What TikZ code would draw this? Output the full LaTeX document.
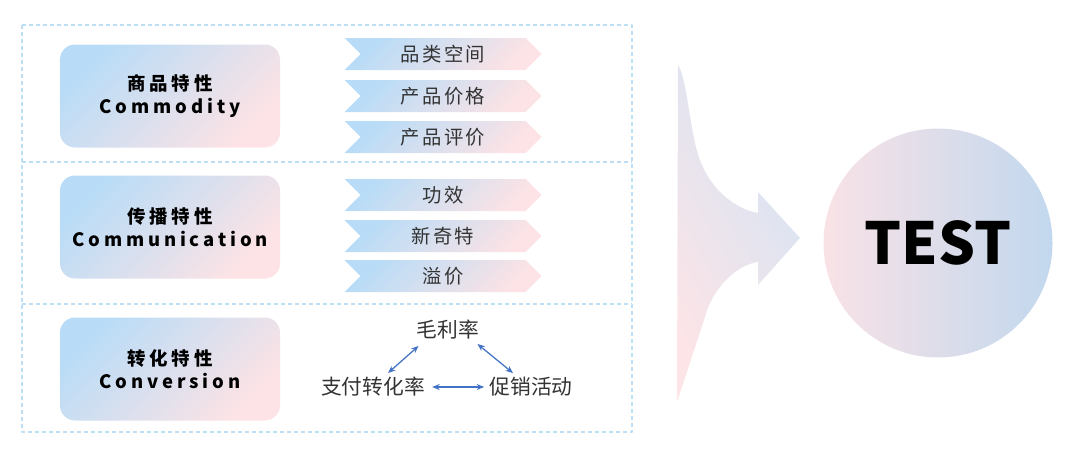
\documentclass[tikz,border=0pt]{standalone}
\usepackage{fontspec}
\setmainfont{Noto Sans CJK SC}
\newfontfamily\lblfont[LetterSpace=21]{Noto Sans CJK SC}
\newfontfamily\tagfont[LetterSpace=12]{Noto Sans CJK SC}
\usetikzlibrary{arrows.meta,positioning,shapes.symbols}

\definecolor{lblue}{HTML}{B8DCF7}
\definecolor{lpink}{HTML}{FDE3E5}
\definecolor{cpink}{HTML}{F9E2E6}
\definecolor{cblue}{HTML}{C2D8EE}
\definecolor{apink}{HTML}{FCE4E7}
\definecolor{ablue}{HTML}{D4E4F4}
\definecolor{dashblue}{HTML}{BCDFF5}
\definecolor{linkblue}{HTML}{4472C4}
\definecolor{darktext}{HTML}{333333}

\begin{document}
\begin{tikzpicture}[x=0.2mm, y=-0.2mm, >=Stealth, line join=round,
  dashbox/.style={draw=dashblue, dashed, dash pattern=on 0.8mm off 0.6mm, line width=0.22mm},
  featbox/.style={rounded corners=3mm, minimum width=44mm, minimum height=20.6mm,
    top color=lblue, bottom color=lpink, shading angle=45, align=center,
    font=\lblfont\bfseries\fontsize{10.5}{13}\selectfont},
  tagbox/.style={signal, signal to=east, signal from=west, signal pointer angle=90,
    minimum width=39.4mm, minimum height=6.4mm, inner sep=0pt,
    top color=lblue, bottom color=lpink, shading angle=45, text=darktext,
    font=\tagfont\fontsize{11}{12}\selectfont},
  tri/.style={inner sep=0pt, text=darktext, font=\fontsize{11.8}{13}\selectfont},
  link/.style={<->, draw=linkblue, line width=0.25mm, >={Stealth[length=1.5mm, width=1.2mm]}}]
  \useasboundingbox (0,0) rectangle (1080,455);

  % 虚线分区
  \draw[dashbox] (22,25) rectangle (632,432);
  \draw[dashbox] (22,162) -- (632,162);
  \draw[dashbox] (22,304) -- (632,304);

  % 三个特性
  \node[featbox] (comm) at (170,96) {商品特性\\Commodity};
  \node[featbox] (comu) at (170,227) {传播特性\\Communication};
  \node[featbox] (conv) at (170,369) {转化特性\\Conversion};

  % 商品特性的要素
  \node[tagbox] (cat) at (443,54) {品类空间};
  \node[tagbox] (price) at (443,96) {产品价格};
  \node[tagbox] (review) at (443,137) {产品评价};

  % 传播特性的要素
  \node[tagbox] (effect) at (443,195) {功效};
  \node[tagbox] (novel) at (443,236) {新奇特};
  \node[tagbox] (premium) at (443,276) {溢价};

  % 转化特性的三角关系
  \node[tri] (margin) at (448,330) {毛利率};
  \node[tri] (payrate) at (373,387) {支付转化率};
  \node[tri] (promo) at (531,387) {促销活动};
  \draw[link] ([xshift=0.4mm, yshift=-1.2mm]margin.south west) -- ([xshift=3mm, yshift=0.8mm]payrate.north);
  \draw[link] ([xshift=-0.4mm, yshift=-0.8mm]margin.south east) -- ([xshift=-3.6mm, yshift=0.8mm]promo.north);
  \draw[link] ([xshift=1.4mm]payrate.east) -- ([xshift=-1mm]promo.west);

  % 汇聚箭头
  \shade[top color=ablue, bottom color=apink, shading angle=-60]
    (678,65) .. controls (688,80) and (690,140) .. (702,165)
    .. controls (715,195) and (740,210) .. (758,213) -- (758,192) -- (800,238)
    -- (758,285) -- (758,262) .. controls (735,265) and (712,290) .. (705,317)
    -- (677,402) -- cycle;

  % 结果
  \node[circle, minimum size=45.8mm, inner sep=0pt, left color=cpink, right color=cblue,
    font=\bfseries\fontsize{33}{33}\selectfont] (test) at (938,243) {TEST};
\end{tikzpicture}
\end{document}
